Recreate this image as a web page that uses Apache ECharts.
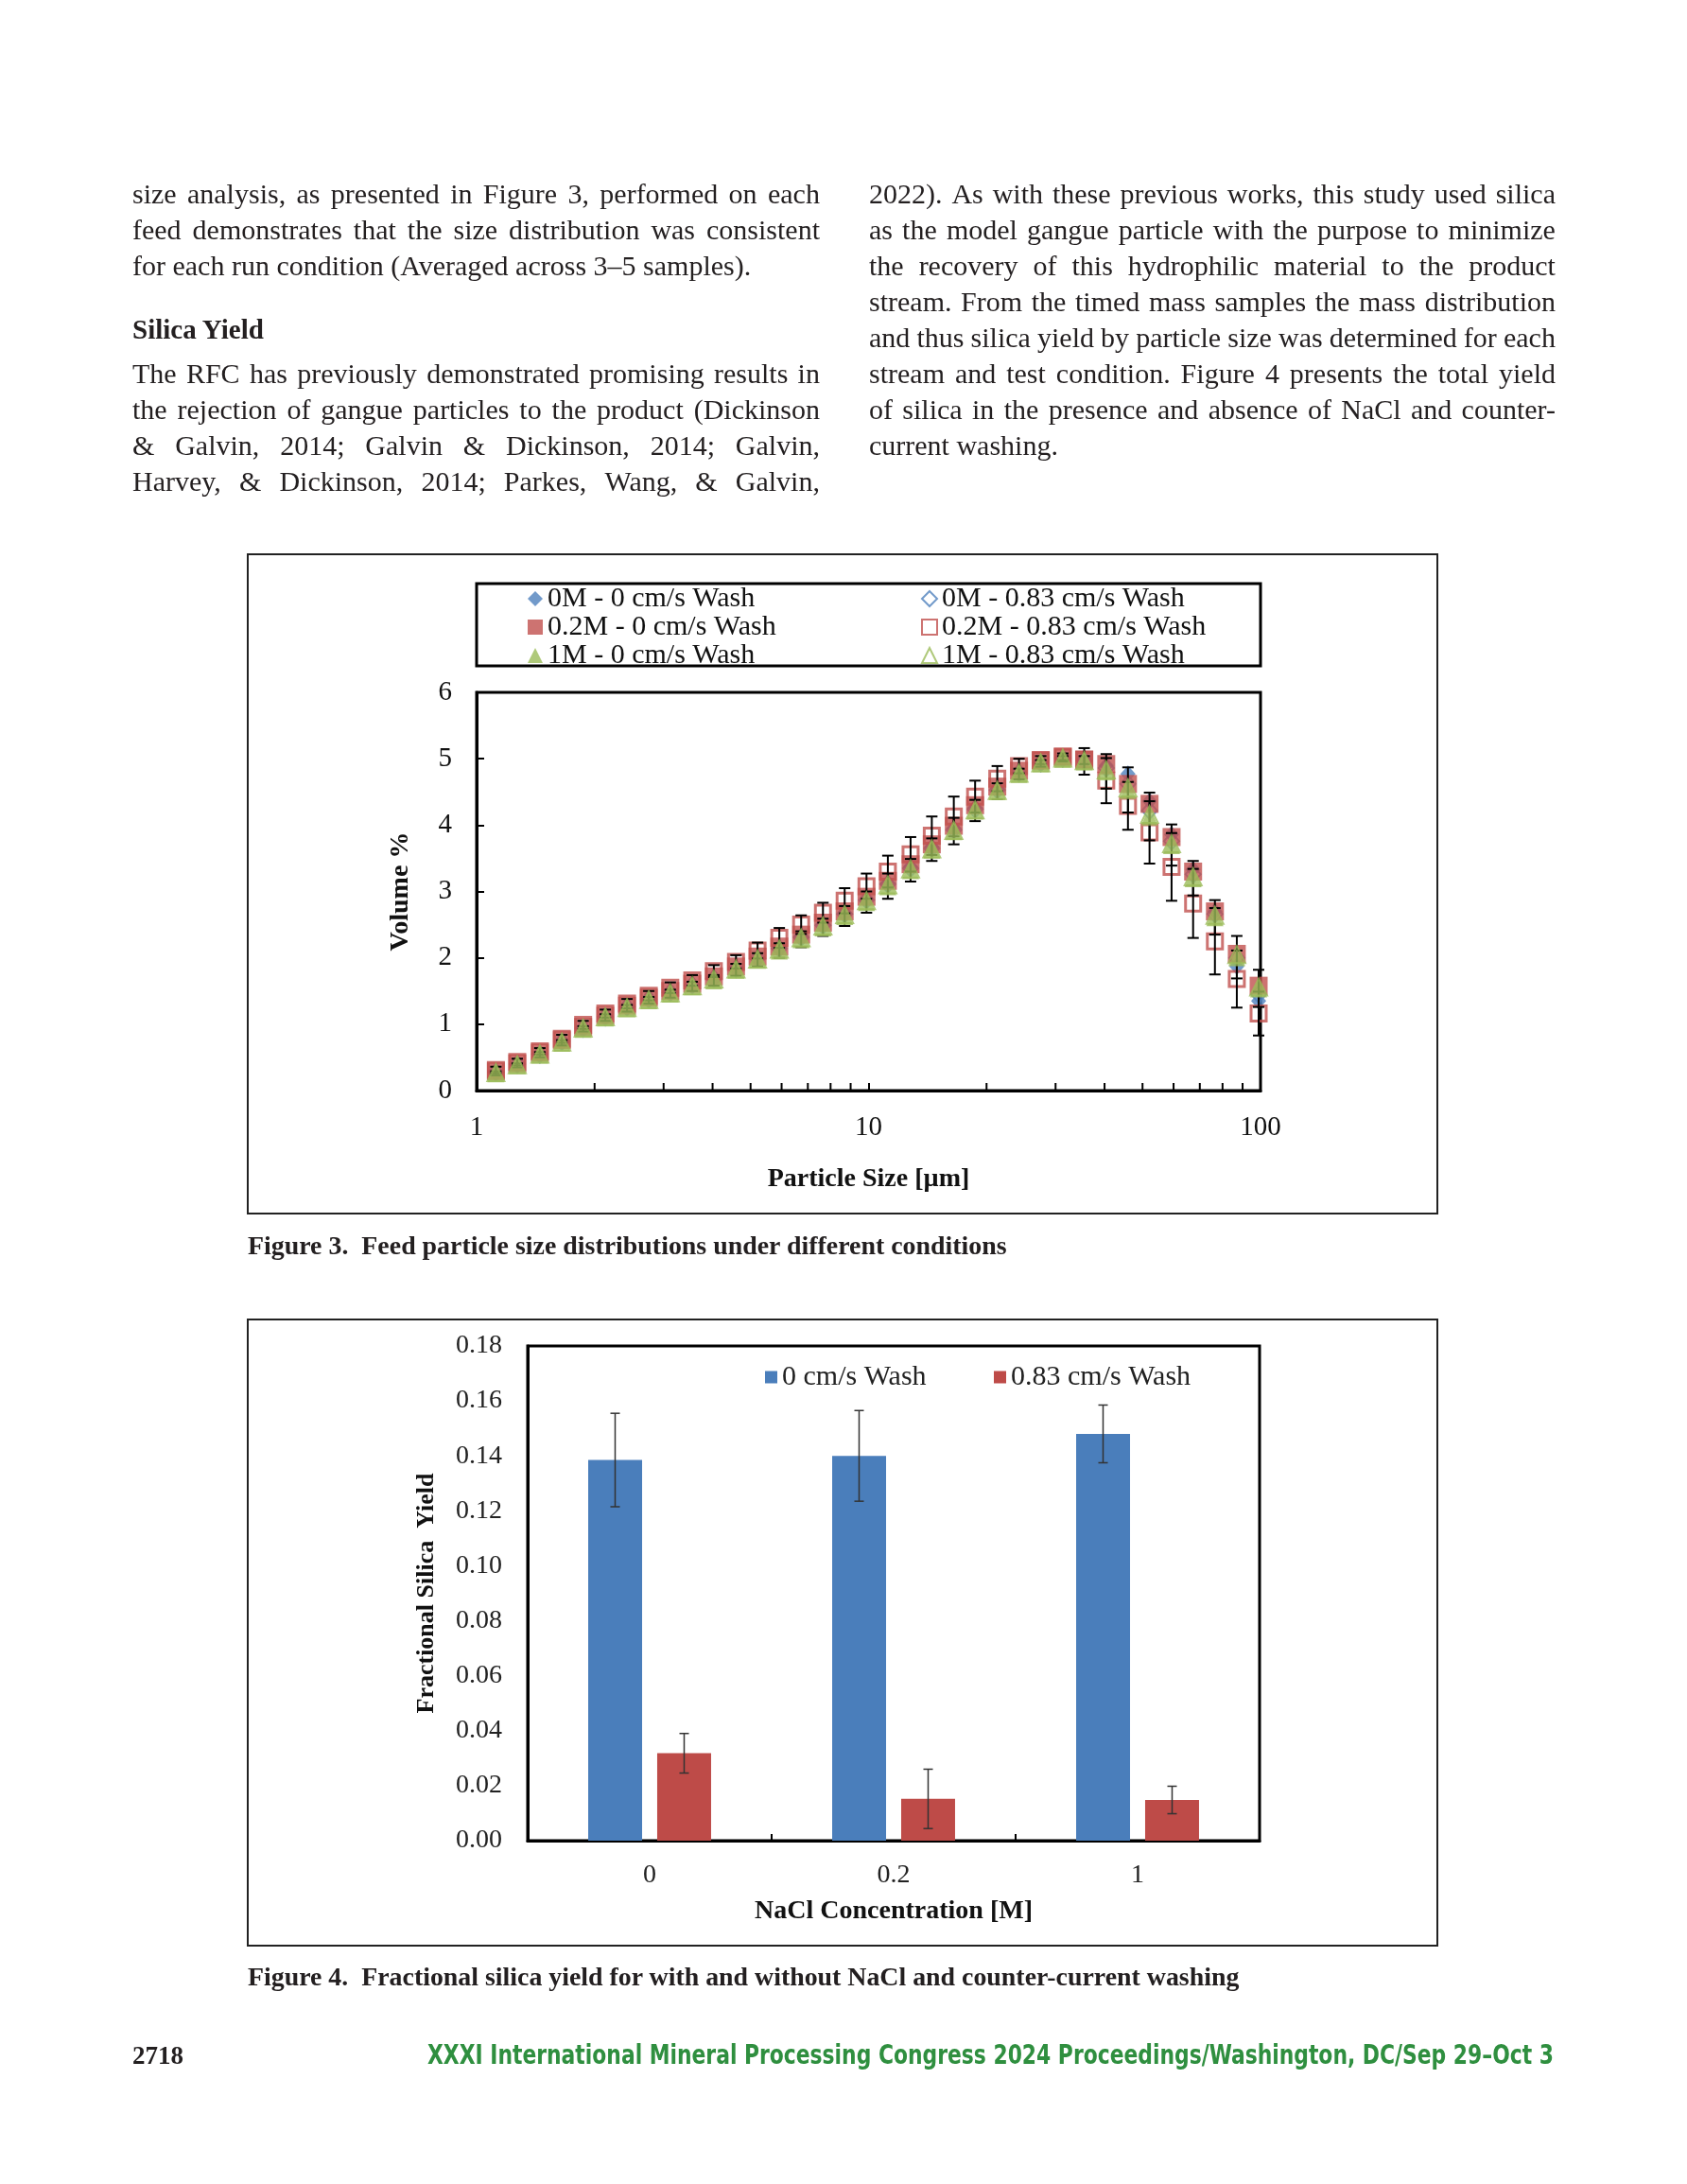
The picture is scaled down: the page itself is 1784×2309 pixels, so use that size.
<!DOCTYPE html>
<html>
<head>
<meta charset="utf-8">
<script src="https://cdn.jsdelivr.net/npm/echarts@6/dist/echarts.min.js"></script>
<style>
html,body{margin:0;padding:0;background:#fff;}
#page{position:relative;width:1784px;height:2309px;overflow:hidden;background:#fff;}
#chart{position:absolute;left:0;top:0;width:1784px;height:2309px;}
.txt{position:absolute;font-family:'Liberation Serif','Times New Roman',serif;color:#231f20;z-index:2;white-space:nowrap;}
.line{height:38px;line-height:38px;font-size:30px;}
.jl{display:flex;justify-content:space-between;}
.head{font-weight:bold;font-size:29px;line-height:38px;}
.cap{font-weight:bold;font-size:25px;line-height:34px;}
.foot{font-family:'Liberation Sans Narrow','DejaVu Sans Condensed','Liberation Sans',sans-serif;font-weight:bold;font-size:28px;color:#2f8f3f;transform-origin:0 50%;line-height:34px;}
.pnum{font-weight:bold;font-size:27px;line-height:34px;color:#231f20;}
</style>
</head>
<body>
<div id="page">
  <div id="chart"></div>
</div>
<script>
// ---------- Text content ----------
const leftPara1 = [
  "size analysis, as presented in Figure 3, performed on each",
  "feed demonstrates that the size distribution was consistent",
  "for each run condition (Averaged across 3\u20135 samples)."
];
const heading = "Silica Yield";
const leftPara2 = [
  "The RFC has previously demonstrated promising results in",
  "the rejection of gangue particles to the product (Dickinson",
  "& Galvin, 2014; Galvin & Dickinson, 2014; Galvin,",
  "Harvey, & Dickinson, 2014; Parkes, Wang, & Galvin,"
];
const rightPara = [
  "2022). As with these previous works, this study used silica",
  "as the model gangue particle with the purpose to minimize",
  "the recovery of this hydrophilic material to the product",
  "stream. From the timed mass samples the mass distribution",
  "and thus silica yield by particle size was determined for each",
  "stream and test condition. Figure 4 presents the total yield",
  "of silica in the presence and absence of NaCl and counter-",
  "current washing."
];
const caption3 = "Figure 3.\u00a0\u00a0Feed particle size distributions under different conditions";
const caption4 = "Figure 4.\u00a0\u00a0Fractional silica yield for with and without NaCl and counter-current washing";
const pageNumber = "2718";
const footerText = "XXXI International Mineral Processing Congress 2024 Proceedings/Washington, DC/Sep 29\u2013Oct 3";

// ---------- Figure 3 data ----------
const particleSizes = [1.12, 1.27, 1.45, 1.65, 1.87, 2.13, 2.42, 2.75, 3.12, 3.55, 4.03, 4.59,
  5.21, 5.92, 6.73, 7.65, 8.69, 9.88, 11.2, 12.8, 14.5, 16.5, 18.7, 21.3,
  24.2, 27.5, 31.3, 35.5, 40.4, 45.9, 52.1, 59.3, 67.3, 76.5, 87.0, 98.9];
const vol0M_0 = [0.28,0.40,0.56,0.74,0.95,1.12,1.27,1.39,1.49,1.60,1.70,1.85,2.00,2.15,2.32,2.50,2.67,2.88,
  3.12,3.37,3.67,3.95,4.26,4.55,4.80,4.95,5.02,4.99,4.90,4.77,4.36,3.86,3.33,2.70,1.87,1.35];
const vol0M_083 = [0.28,0.40,0.55,0.74,0.94,1.11,1.26,1.38,1.48,1.59,1.69,1.84,1.99,2.14,2.31,2.49,2.66,2.87,
  3.11,3.35,3.65,3.93,4.24,4.53,4.79,4.94,5.01,4.97,4.86,4.62,4.22,3.76,3.26,2.66,2.00,1.45];
const vol02M_0 = [0.29,0.41,0.57,0.76,0.96,1.13,1.28,1.40,1.50,1.61,1.72,1.87,2.02,2.17,2.35,2.53,2.70,2.92,
  3.16,3.41,3.71,3.99,4.30,4.58,4.82,4.97,5.03,4.99,4.92,4.62,4.32,3.82,3.30,2.70,2.06,1.58];
const vol02M_083 = [0.31,0.43,0.59,0.78,0.99,1.16,1.31,1.43,1.55,1.66,1.80,1.94,2.11,2.30,2.50,2.68,2.86,3.08,
  3.30,3.56,3.84,4.13,4.43,4.70,4.89,4.98,5.03,4.98,4.67,4.29,3.89,3.37,2.82,2.25,1.68,1.16];
const vol1M_0 = [0.26,0.38,0.54,0.72,0.93,1.10,1.24,1.36,1.46,1.57,1.66,1.82,1.97,2.11,2.28,2.46,2.63,2.84,
  3.08,3.32,3.63,3.91,4.22,4.51,4.77,4.93,5.00,4.96,4.81,4.53,4.13,3.70,3.20,2.61,2.01,1.54];
const vol1M_083 = [0.27,0.39,0.55,0.73,0.94,1.11,1.25,1.37,1.47,1.58,1.68,1.83,1.98,2.13,2.30,2.48,2.65,2.86,
  3.10,3.34,3.64,3.92,4.23,4.52,4.78,4.94,5.01,4.97,4.83,4.56,4.16,3.72,3.22,2.64,2.05,1.56];
const err02M_083 = [0.05,0.05,0.05,0.06,0.06,0.06,0.07,0.07,0.08,0.08,0.09,0.10,0.12,0.15,0.14,0.15,0.19,0.19,
  0.24,0.26,0.29,0.30,0.24,0.19,0.11,0.06,0.05,0.06,0.34,0.36,0.47,0.51,0.52,0.50,0.43,0.33];
const err1M_0 = [0.03,0.03,0.04,0.04,0.04,0.05,0.05,0.05,0.06,0.07,0.08,0.09,0.10,0.11,0.12,0.13,0.15,0.16,
  0.19,0.17,0.17,0.20,0.16,0.12,0.08,0.05,0.04,0.20,0.26,0.34,0.36,0.31,0.26,0.26,0.32,0.28];
const xMinorTicks = [2,3,4,5,6,7,8,9,20,30,40,50,60,70,80,90];

// ---------- Figure 4 data ----------
const naclCategories = ['0', '0.2', '1'];
const yieldNoWash = [0.1385, 0.1400, 0.1480];
const errNoWash = [0.0170, 0.0165, 0.0105];
const yieldWash = [0.0318, 0.0152, 0.0148];
const errWash = [0.0072, 0.0108, 0.0050];

// ---------- HTML text ----------
const page = document.getElementById('page');
function addLine(text, left, top, width, justify, cls) {
  const d = document.createElement('div');
  d.className = 'txt line ' + (cls || '');
  d.style.left = left + 'px';
  d.style.top = top + 'px';
  d.style.width = width + 'px';
  if (justify) {
    d.classList.add('jl');
    text.split(' ').forEach(w => {
      const s = document.createElement('span');
      s.textContent = w;
      d.appendChild(s);
    });
  } else {
    d.textContent = text;
  }
  page.appendChild(d);
  return d;
}
function addText(text, left, top, cls) {
  const d = document.createElement('div');
  d.className = 'txt ' + cls;
  d.style.left = left + 'px';
  d.style.top = top + 'px';
  d.textContent = text;
  page.appendChild(d);
  return d;
}
const LH = 38;
leftPara1.forEach((t, i) => addLine(t, 140, 186 + i * LH, 727, i < leftPara1.length - 1));
addText(heading, 140, 329, 'head');
leftPara2.forEach((t, i) => addLine(t, 140, 376 + i * LH, 727, true));
rightPara.forEach((t, i) => addLine(t, 919, 186 + i * LH, 726, i < rightPara.length - 1));

function fitWidth(el, target) {
  const w = el.getBoundingClientRect().width;
  const fs = parseFloat(getComputedStyle(el).fontSize);
  el.style.fontSize = (fs * target / w) + 'px';
}
const c3 = addText(caption3, 262, 1300, 'cap');
fitWidth(c3, 803);
const c4 = addText(caption4, 262, 2073, 'cap');
fitWidth(c4, 1049);
addText(pageNumber, 140, 2156, 'pnum');
const ft = addText(footerText, 452, 2156, 'foot');
const fw = ft.getBoundingClientRect().width;
ft.style.transform = 'scaleX(' + (1191 / fw) + ')';

// ---------- Chart ----------
const chart = echarts.init(document.getElementById('chart'), null, {renderer: 'canvas'});
const FONT = 'Liberation Serif';
const BLUE = '#4F81BD', RED = '#C0504D', GREEN = '#9BBB59';

function pts(vals) { return particleSizes.map((s, i) => [s, vals[i]]); }
function errData(vals, errs) { return particleSizes.map((s, i) => [s, vals[i] - errs[i], vals[i] + errs[i]]); }
function errRender(capHalf, offset, width, color) {
  return function (params, api) {
    const x = api.value(0), lo = api.value(1), hi = api.value(2);
    const p1 = api.coord([x, hi]);
    const p2 = api.coord([x, lo]);
    const cx = p1[0] + offset;
    const st = {stroke: color, lineWidth: width};
    return {type: 'group', children: [
      {type: 'line', shape: {x1: cx, y1: p1[1], x2: cx, y2: p2[1]}, style: st},
      {type: 'line', shape: {x1: cx - capHalf, y1: p1[1], x2: cx + capHalf, y2: p1[1]}, style: st},
      {type: 'line', shape: {x1: cx - capHalf, y1: p2[1], x2: cx + capHalf, y2: p2[1]}, style: st}
    ]};
  };
}
const TRANSP = 'rgba(255,255,255,0)';

const legendText = {fontFamily: FONT, fontSize: 30, color: '#111', lineHeight: 28};
const option = {
  animation: false,
  backgroundColor: '#fff',
  textStyle: {fontFamily: FONT},
  graphic: [
    {type: 'rect', shape: {x: 262, y: 586, width: 1258, height: 697}, style: {fill: 'none', stroke: '#222', lineWidth: 2}, z: 0},
    {type: 'rect', shape: {x: 504, y: 617, width: 829, height: 87}, style: {fill: 'none', stroke: '#000', lineWidth: 3}, z: 0},
    {type: 'rect', shape: {x: 262, y: 1395, width: 1258, height: 662}, style: {fill: 'none', stroke: '#222', lineWidth: 2}, z: 0}
  ],
  legend: [
    {data: ['0M - 0 cm/s Wash', '0.2M - 0 cm/s Wash', '1M - 0 cm/s Wash'], orient: 'vertical', left: 558, top: 618,
      itemWidth: 16, itemHeight: 16, itemGap: 0, padding: 0, selectedMode: false, textStyle: legendText},
    {data: ['0M - 0.83 cm/s Wash', '0.2M - 0.83 cm/s Wash', '1M - 0.83 cm/s Wash'], orient: 'vertical', left: 974, top: 618,
      itemWidth: 16, itemHeight: 16, itemGap: 0, padding: 0, selectedMode: false, textStyle: legendText},
    {data: ['0 cm/s Wash'], left: 809, top: 1441, itemWidth: 13, itemHeight: 13, padding: 0, selectedMode: false,
      icon: 'rect', textStyle: {fontFamily: FONT, fontSize: 30, color: '#222'}},
    {data: ['0.83 cm/s Wash'], left: 1051, top: 1441, itemWidth: 13, itemHeight: 13, padding: 0, selectedMode: false,
      icon: 'rect', textStyle: {fontFamily: FONT, fontSize: 30, color: '#222'}}
  ],
  grid: [
    {left: 504, top: 732, width: 829, height: 421, show: true, borderColor: '#000', borderWidth: 3, backgroundColor: 'transparent'},
    {left: 558, top: 1423, width: 774, height: 523, show: true, borderColor: '#000', borderWidth: 3, backgroundColor: 'transparent'}
  ],
  xAxis: [
    {gridIndex: 0, type: 'log', logBase: 10, min: 1, max: 100,
      axisLine: {show: true, lineStyle: {color: '#000', width: 3}},
      axisTick: {show: true, inside: true, length: 8, lineStyle: {color: '#000', width: 2}},
      axisLabel: {fontFamily: FONT, fontSize: 29, color: '#111', margin: 25},
      splitLine: {show: false}, minorTick: {show: false}, minorSplitLine: {show: false},
      name: 'Particle Size [\u00b5m]', nameLocation: 'middle', nameGap: 80,
      nameTextStyle: {fontFamily: FONT, fontSize: 28, fontWeight: 'bold', color: '#111'}},
    {gridIndex: 1, type: 'category', data: naclCategories,
      axisLine: {show: true, lineStyle: {color: '#000', width: 3}},
      axisTick: {show: true, inside: true, length: 7, alignWithLabel: false, lineStyle: {color: '#000', width: 2}},
      axisLabel: {fontFamily: FONT, fontSize: 28, color: '#222', margin: 23},
      splitLine: {show: false},
      name: 'NaCl Concentration [M]', nameLocation: 'middle', nameGap: 61,
      nameTextStyle: {fontFamily: FONT, fontSize: 28, fontWeight: 'bold', color: '#111'}}
  ],
  yAxis: [
    {gridIndex: 0, type: 'value', min: 0, max: 6, interval: 1,
      axisLine: {show: true, lineStyle: {color: '#000', width: 3}},
      axisTick: {show: true, inside: true, length: 8, lineStyle: {color: '#000', width: 2}},
      axisLabel: {fontFamily: FONT, fontSize: 29, color: '#111', margin: 26},
      splitLine: {show: false},
      name: 'Volume %', nameLocation: 'middle', nameGap: 66,
      nameTextStyle: {fontFamily: FONT, fontSize: 28, fontWeight: 'bold', color: '#111'}},
    {gridIndex: 1, type: 'value', min: 0, max: 0.18, interval: 0.02,
      axisLine: {show: true, lineStyle: {color: '#000', width: 3}},
      axisTick: {show: false},
      axisLabel: {fontFamily: FONT, fontSize: 28, color: '#222', margin: 27, formatter: v => v.toFixed(2)},
      splitLine: {show: false},
      name: 'Fractional Silica  Yield', nameLocation: 'middle', nameGap: 94,
      nameTextStyle: {fontFamily: FONT, fontSize: 26, fontWeight: 'bold', color: '#111'}}
  ],
  series: [
    {name: '0M - 0.83 cm/s Wash', type: 'scatter', xAxisIndex: 0, yAxisIndex: 0, data: pts(vol0M_083),
      symbol: 'diamond', symbolSize: [16, 18], z: 2,
      itemStyle: {color: TRANSP, borderColor: BLUE, borderWidth: 2}},
    {name: '0M - 0 cm/s Wash', type: 'scatter', xAxisIndex: 0, yAxisIndex: 0, data: pts(vol0M_0),
      symbol: 'diamond', symbolSize: [16, 18], z: 3, itemStyle: {color: BLUE}},
    {name: '0.2M - 0 cm/s Wash', type: 'scatter', xAxisIndex: 0, yAxisIndex: 0, data: pts(vol02M_0),
      symbol: 'rect', symbolSize: [19, 19], z: 4, itemStyle: {color: RED}},
    {name: '0.2M - 0.83 cm/s Wash', type: 'scatter', xAxisIndex: 0, yAxisIndex: 0, data: pts(vol02M_083),
      symbol: 'rect', symbolSize: [16, 16], z: 5,
      itemStyle: {color: TRANSP, borderColor: RED, borderWidth: 3}},
    {name: 'err-02M-083', type: 'custom', xAxisIndex: 0, yAxisIndex: 0, data: errData(vol02M_083, err02M_083),
      renderItem: errRender(6, 0, 2, '#000'), encode: {x: 0, y: [1, 2]}, z: 6, silent: true, clip: false},
    {name: 'err-1M-0', type: 'custom', xAxisIndex: 0, yAxisIndex: 0, data: errData(vol1M_0, err1M_0),
      renderItem: errRender(6, 0, 2, '#000'), encode: {x: 0, y: [1, 2]}, z: 6, silent: true, clip: false},
    {name: '1M - 0.83 cm/s Wash', type: 'scatter', xAxisIndex: 0, yAxisIndex: 0, data: pts(vol1M_083),
      symbol: 'triangle', symbolSize: [18, 18], z: 7,
      itemStyle: {color: TRANSP, borderColor: GREEN, borderWidth: 2}},
    {name: '1M - 0 cm/s Wash', type: 'scatter', xAxisIndex: 0, yAxisIndex: 0, data: pts(vol1M_0),
      symbol: 'triangle', symbolSize: [18, 19], z: 8, itemStyle: {color: GREEN}},
    {name: 'minor-ticks', type: 'custom', xAxisIndex: 0, yAxisIndex: 0, data: xMinorTicks.map(v => [v, 0]),
      encode: {x: 0, y: 1}, z: 9, silent: true, clip: false,
      renderItem: function (params, api) {
        const p = api.coord([api.value(0), 0]);
        return {type: 'line', shape: {x1: p[0], y1: p[1], x2: p[0], y2: p[1] - 8}, style: {stroke: '#000', lineWidth: 2}};
      }},
    {name: '0 cm/s Wash', type: 'bar', xAxisIndex: 1, yAxisIndex: 1, data: yieldNoWash,
      barWidth: 57, barGap: '28%', itemStyle: {color: '#4A7EBB'}},
    {name: '0.83 cm/s Wash', type: 'bar', xAxisIndex: 1, yAxisIndex: 1, data: yieldWash,
      barWidth: 57, barGap: '28%', itemStyle: {color: '#BE4B48'}},
    {name: 'err-nowash', type: 'custom', xAxisIndex: 1, yAxisIndex: 1,
      data: yieldNoWash.map((v, i) => [i, v - errNoWash[i], v + errNoWash[i]]),
      renderItem: errRender(5, -36.5, 1.5, '#333'), encode: {x: 0, y: [1, 2]}, z: 6, silent: true, clip: false},
    {name: 'err-wash', type: 'custom', xAxisIndex: 1, yAxisIndex: 1,
      data: yieldWash.map((v, i) => [i, v - errWash[i], v + errWash[i]]),
      renderItem: errRender(5, 36.5, 1.5, '#333'), encode: {x: 0, y: [1, 2]}, z: 6, silent: true, clip: false}
  ]
};
chart.setOption(option);
</script>
</body>
</html>
